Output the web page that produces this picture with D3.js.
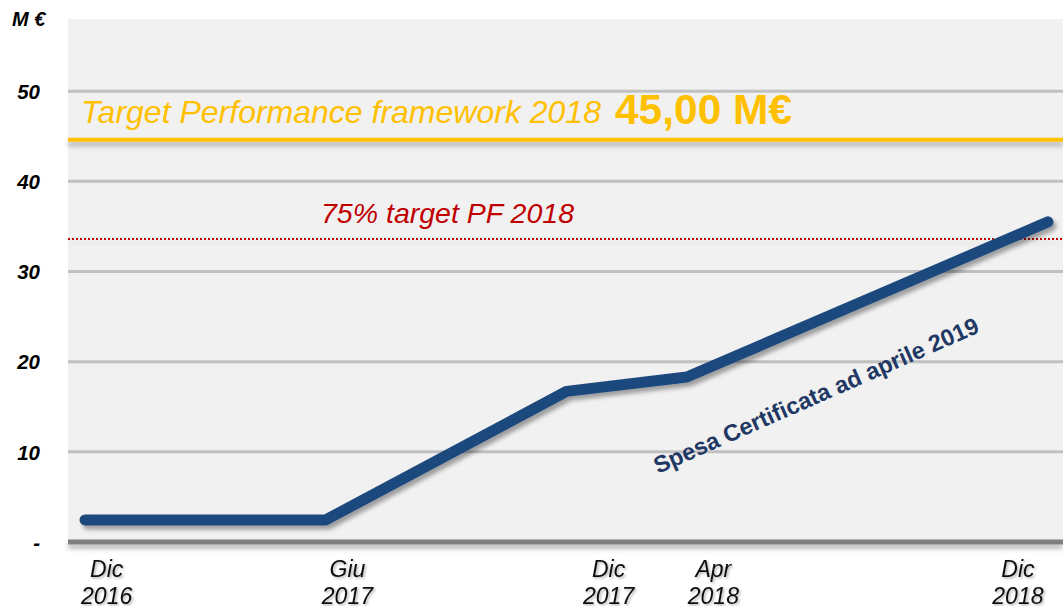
<!DOCTYPE html>
<html>
<head>
<meta charset="utf-8">
<script src="https://cdn.jsdelivr.net/npm/d3@7"></script>
<style>
  body { margin: 0; background: #fff; }
  text { font-family: "Liberation Sans", Arial, sans-serif; }
</style>
</head>
<body>
<div id="chart"></div>
<script>
// periodi sull'asse x (slot = passo della griglia originale)
var periods = ["Dic 2016", "Giu 2017", "Dic 2017", "Apr 2018", "Dic 2018"]
var periodSlot = [0, 2, 4, 5, 8]
var labelSlot = [0.18, 2.18, 4.35, 5.22, 7.75]
// spesa certificata, M€
var spesa = [2.45, 2.45, 16.7, 18.3, 35.5]
var yTicks = [0, 10, 20, 30, 40, 50]
var targetValue = 44.6
var targetLabel = "45,00 M€"
var target75 = 33.6

var width = 1063, height = 606
var svg = d3.select("#chart")
  .append("svg")
  .attr("width", width)
  .attr("height", height)

var defs = svg.append("defs")
// userSpaceOnUse: le linee orizzontali hanno bbox di altezza 0
function shadow(id, dx, dy, sd, op){
  defs.append("filter").attr("id", id)
    .attr("filterUnits", "userSpaceOnUse")
    .attr("x", 0).attr("y", 0).attr("width", width).attr("height", height)
    .append("feDropShadow")
    .attr("dx", dx).attr("dy", dy).attr("stdDeviation", sd)
    .attr("flood-color", "#000").attr("flood-opacity", op)
}
shadow("sh_line", 3, 4, 2, 0.35)
shadow("sh_flat", 0, 4, 2.5, 0.3)
shadow("sh_soft", 0, 4, 2.5, 0.12)
shadow("sh_text", 1.5, 1.5, 0.8, 0.3)

var pLeft = 68, pRight = 1063, pTop = 19, pBottom = 542

var x = d3.scaleLinear()
  .domain([0, 8])
  .range([85, 1048])
var y = d3.scaleLinear()
  .domain([0, 58])
  .range([pBottom, pTop])

// sfondo area grafico
svg.append("rect")
  .attr("x", pLeft).attr("y", pTop)
  .attr("width", pRight - pLeft).attr("height", pBottom - pTop)
  .attr("fill", "#f1f1f1")

// griglia
svg.selectAll(".grid")
  .data(yTicks.filter(function(d){ return d > 0 }))
  .enter()
  .append("line")
  .attr("class", "grid")
  .attr("x1", pLeft).attr("x2", pRight)
  .attr("y1", function(d){ return y(d) })
  .attr("y2", function(d){ return y(d) })
  .attr("stroke", "#c0c0c0")
  .attr("stroke-width", 3)

// asse y
var yAxis = svg.append("g")
  .attr("transform", "translate(" + pLeft + ",0)")
  .call(d3.axisLeft(y).tickValues(yTicks).tickSize(0).tickPadding(28)
    .tickFormat(function(d){ return d == 0 ? "-" : d }))
yAxis.select(".domain").remove()
yAxis.selectAll("text")
  .attr("font-size", 20.5)
  .attr("font-weight", "bold")
  .attr("font-style", "italic")
  .attr("fill", "#000")
  .attr("dy", "0.35em")
  .style("font-family", "'Liberation Sans', Arial, sans-serif")

svg.append("text")
  .attr("x", 12).attr("y", 26)
  .attr("font-size", 20)
  .attr("font-weight", "bold")
  .attr("font-style", "italic")
  .text("M €")

// linea dello zero
svg.append("line")
  .attr("x1", pLeft).attr("x2", pRight)
  .attr("y1", y(0)).attr("y2", y(0))
  .attr("stroke", "#808080")
  .attr("stroke-width", 5)
  .attr("filter", "url(#sh_flat)")

// target performance framework
svg.append("line")
  .attr("x1", pLeft).attr("x2", pRight)
  .attr("y1", y(targetValue)).attr("y2", y(targetValue))
  .attr("stroke", "#ffc000")
  .attr("stroke-width", 4)
  .attr("filter", "url(#sh_flat)")
var tt = svg.append("text")
  .attr("x", 81).attr("y", 123)
  .attr("fill", "#ffc000")
tt.append("tspan")
  .attr("font-size", 32)
  .attr("font-style", "italic")
  .text("Target Performance framework 2018")
tt.append("tspan")
  .attr("dx", 14)
  .attr("font-size", 42.5)
  .attr("font-weight", "bold")
  .attr("dy", 1)
  .text(targetLabel)

// 75% target
svg.append("line")
  .attr("x1", pLeft).attr("x2", pRight)
  .attr("y1", y(target75)).attr("y2", y(target75))
  .attr("stroke", "#c00000")
  .attr("stroke-width", 2)
  .attr("stroke-dasharray", "2,2")
  .attr("filter", "url(#sh_soft)")
svg.append("text")
  .attr("x", 321).attr("y", 223)
  .attr("fill", "#c00000")
  .attr("font-size", 28.5)
  .attr("font-style", "italic")
  .text("75% target PF 2018")

// linea spesa certificata
var pts = spesa.map(function(v, i){ return [periodSlot[i], v] })
svg.append("path")
  .datum(pts)
  .attr("d", d3.line()
    .x(function(d){ return x(d[0]) })
    .y(function(d){ return y(d[1]) }))
  .attr("fill", "none")
  .attr("stroke", "#1f497d")
  .attr("stroke-width", 11)
  .attr("stroke-linecap", "round")
  .attr("stroke-linejoin", "round")
  .attr("filter", "url(#sh_line)")

svg.append("text")
  .attr("transform", "translate(658,474) rotate(-23.8)")
  .attr("fill", "#1f3864")
  .attr("font-size", 23.5)
  .attr("font-weight", "bold")
  .text("Spesa Certificata ad aprile 2019")

// etichette asse x
var xl = svg.selectAll(".xlab")
  .data(periods)
  .enter()
  .append("text")
  .attr("class", "xlab")
  .attr("text-anchor", "middle")
  .attr("font-size", 23)
  .attr("font-style", "italic")
  .attr("fill", "#111")
  .attr("filter", "url(#sh_text)")
xl.append("tspan")
  .attr("x", function(d, i){ return x(labelSlot[i]) })
  .attr("y", 577)
  .text(function(d){ return d.split(" ")[0] })
xl.append("tspan")
  .attr("x", function(d, i){ return x(labelSlot[i]) })
  .attr("y", 604)
  .text(function(d){ return d.split(" ")[1] })
</script>
</body>
</html>
